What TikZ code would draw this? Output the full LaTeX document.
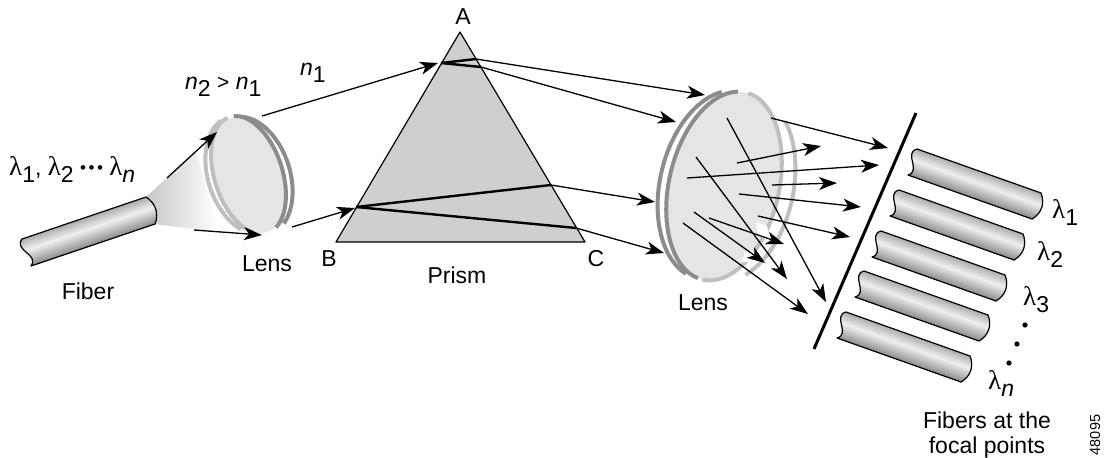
\documentclass[tikz,border=0pt]{standalone}
\usepackage{fontspec}
\setmainfont{Liberation Sans}
\newfontfamily\lamfont{Liberation Serif}
\usetikzlibrary{arrows.meta}
\newcommand\lam{{\lamfont\fontsize{27}{27}\selectfont λ}}
\newcommand\lowr[1]{\raisebox{-7.5pt}{#1}}
\newcommand\itn{\textit{n}}
\newcommand\threedots{\raisebox{1.5pt}{{\fontsize{17}{17}\selectfont •\kern2.5pt•\kern2.5pt•}}}
\newcommand\fibertube[6]{%
 \begin{scope}[shift={(#1,#2)}]
  \def\outline{(0,0) -- (#3,#4) .. controls ({#3*1.055+#5*.3},{#4*1.055+#6*.3}) and ({#3*1.055+#5*.7},{#4*1.055+#6*.7}) .. ({#3+#5},{#4+#6}) -- (#5,#6) .. controls ({#5*.7+.09*#3},{#6*.7+.09*#4}) and ({#5*.3-.09*#3},{#6*.3-.09*#4}) .. (0,0) -- cycle}
  \begin{scope}
   \clip \outline;
   \foreach \i in {0,...,27}{%
    \pgfmathsetmacro\tt{\i/28}
    \pgfmathsetmacro\gg{\tt<.42 ? .68+(.94-.68)*\tt/.42 : .94-(.94-.55)*(\tt-.42)/.58}
    \definecolor{fibc}{gray}{\gg}
    \fill[fibc] ({\tt*#5-.2*#3},{\tt*#6-.2*#4}) -- ({\tt*#5+1.2*#3},{\tt*#6+1.2*#4}) -- ({1.3*#5+1.2*#3},{1.3*#6+1.2*#4}) -- ({1.3*#5-.2*#3},{1.3*#6-.2*#4}) -- cycle;
   }
  \end{scope}
  \draw[fibline] \outline;
 \end{scope}}
% #1 style, #2 cx, #3 cy, #4 angle, #5 a, #6 b, #7 t0, #8 t1
\newcommand\ellarc[8]{\draw[#1] plot[domain=#7:#8,samples=70,smooth] ({#2+#5*cos(\x)*cos(#4)-#6*sin(\x)*sin(#4)},{#3+#5*cos(\x)*sin(#4)+#6*sin(\x)*cos(#4)});}
\tikzset{
 fibline/.style={line width=1.2pt,black,line join=round},
 ray/.style={line width=1.3pt,black,-{Stealth[length=18pt,width=13pt,inset=5pt]}},
 inray/.style={line width=2.4pt,black},
 lab/.style={inner sep=0pt,anchor=base,font=\fontsize{23}{23}\selectfont},
 labw/.style={inner sep=0pt,anchor=base west,font=\fontsize{23}{23}\selectfont},
 darkring/.style={line width=4pt,black!45},
 lightring/.style={line width=4pt,black!25},
}
\begin{document}
\begin{tikzpicture}[x=1pt,y=-1pt]
\useasboundingbox (0,0) rectangle (1104,458);
\fill[white] (0,0) rectangle (1104,458);
% light cone
\shade[left color=black!22,right color=white] (146,197) -- (196,151) -- (218,232) -- (154,224) -- cycle;
% left lens
\ellarc{fill=black!10,draw=none}{248.5}{175}{72}{60}{33}{0}{360}
\ellarc{lightring}{248.5}{175}{72}{61}{34}{22}{176}
\ellarc{lightring}{247}{175}{72}{61}{39}{35}{168}
\ellarc{darkring}{248.5}{175}{72}{61}{34}{187}{343}
\ellarc{darkring}{251}{176}{72}{61}{39}{192}{335}
% input fibre
\fibertube{22}{239}{124}{-42}{9}{27}
% prism
\coordinate (A) at (460,32);
\coordinate (B) at (336,242);
\coordinate (C) at (585,242);
\draw[fill=black!19,line width=1.2pt,line join=round] (A) -- (B) -- (C) -- cycle;
% right lens
\ellarc{fill=black!10,draw=none}{724}{186}{103}{96}{53}{0}{360}
\ellarc{darkring}{724}{186}{103}{96}{55}{5}{172}
\ellarc{darkring}{719}{185}{103}{96}{59}{12}{162}
\ellarc{lightring}{724}{186}{103}{96}{55}{183}{360}
\ellarc{lightring}{736}{189}{103}{94}{57}{215}{330}
\fill[white] (756,222) -- (767,226) -- (770,240) -- (758,236) -- cycle;
\fill[white] (745,252) -- (755,250) -- (752,262) -- (742,262) -- cycle;
% ray points
\coordinate (f1) at (167,178); \coordinate (l1a) at (217,132);
\coordinate (f2) at (194,230); \coordinate (l1b) at (262,235);
\coordinate (o1) at (262,116); \coordinate (pa) at (438,63);
\coordinate (o2) at (292,227); \coordinate (pb) at (355,208);
\coordinate (pa0) at (441,63); \coordinate (pa1) at (476,59); \coordinate (pa2) at (481,67);
\coordinate (pb0) at (356,207); \coordinate (pb1) at (551,185); \coordinate (pb2) at (576,228);
\coordinate (r1) at (705,95); \coordinate (r2) at (676,122); \coordinate (r3) at (655,202); \coordinate (r4) at (664,253);
\draw[ray] (f1) -- (l1a);
\draw[ray] (f2) -- (l1b);
\draw[ray] (o1) -- (pa);
\draw[ray] (o2) -- (pb);
\draw[inray] (pa0) -- (pa1);
\draw[inray] (pa0) -- (pa2);
\draw[inray] (pb0) -- (pb1);
\draw[inray] (pb0) -- (pb2);
\draw[ray] (pa1) -- (r1);
\draw[ray] (pa2) -- (r2);
\draw[ray] (pb1) -- (r3);
\draw[ray] (pb2) -- (r4);
% rays leaving the right lens
\foreach \a/\b/\c/\d in {771/118/888/148,737/163/821/146,687/178/879/165,772/185/837/183,739/194/861/207,758/216/850/237,709/218/784/244,694/212/765/263,696/157/787/279,727/118/826/302,683/223/808/314}{
 \draw[ray] (\a,\b) -- (\c,\d);
}
% focal line
\coordinate (fl1) at (916,113); \coordinate (fl2) at (814,349);
\draw[line width=3pt,black] (fl1) -- (fl2);
% output fibres
\fibertube{917}{149}{124}{44}{-9}{26}
\fibertube{899}{190}{124}{44}{-9}{26}
\fibertube{881}{231}{124}{44}{-9}{26}
\fibertube{864}{271}{124}{44}{-9}{26}
\fibertube{846}{312}{124}{44}{-9}{26}
% dots
\fill (1025,325) circle (2.6);
\fill (1017,344) circle (2.6);
\fill (1009,363) circle (2.6);
% labels
\node[labw] (tin) at (9,175) {\lam\lowr{1}, \lam\lowr{2} \threedots{} \lam\lowr{\itn}};
\node[labw] (tn2) at (185,89) {\itn\lowr{2} {\fontsize{21}{21}\selectfont >} \itn\lowr{1}};
\node[labw] (tn1) at (300,75) {\itn\lowr{1}};
\node[lab] (ta) at (463,24) {A};
\node[lab] (tb) at (329,266) {B};
\node[lab] (tc) at (596,266) {C};
\node[lab] (tprism) at (457,283) {Prism};
\node[lab] (tlens1) at (267,271) {Lens};
\node[lab] (tfiber) at (88,299) {Fiber};
\node[lab] (tlens2) at (703,310) {Lens};
\node[lab] (tf1) at (987,428) {Fibers at the};
\node[lab] (tf2) at (987,453) {focal points};
\node[labw] (tl1) at (1052,218) {\lam\lowr{1}};
\node[labw] (tl2) at (1037,260) {\lam\lowr{2}};
\node[labw] (tl3) at (1023,305) {\lam\lowr{3}};
\node[labw] (tln) at (988,389) {\lam\lowr{\itn}};
\node[inner sep=0pt,rotate=90,font=\fontsize{14.5}{14.5}\selectfont] (tid) at (1095,435) {48095};
\end{tikzpicture}
\end{document}
